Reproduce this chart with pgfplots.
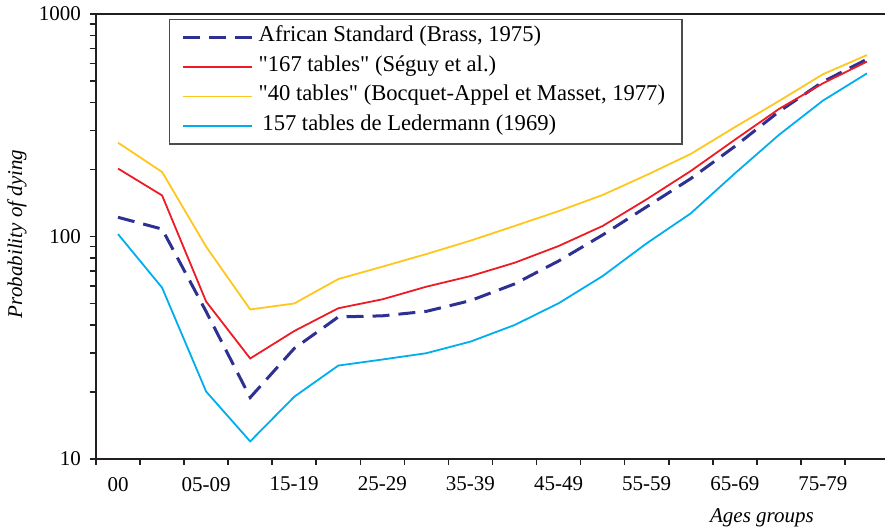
\documentclass[border=0pt]{standalone}
\usepackage{pgfplots}
\pgfplotsset{compat=1.18}
\usepackage{fontspec}
\setmainfont{Liberation Serif}
\definecolor{cNavy}{RGB}{46,49,146}
\definecolor{cRed}{RGB}{237,28,36}
\definecolor{cYel}{RGB}{255,198,30}
\definecolor{cCyan}{RGB}{0,174,239}
\definecolor{cAx}{RGB}{35,31,32}
\begin{document}
\begin{tikzpicture}
\begin{axis}[
  name=ax,
  scale only axis,
  width=394.5pt, height=222.5pt,
  font=\fontsize{10.5}{12.6}\selectfont,
  /pgf/number format/assume math mode=true,
  ymode=log,
  ymin=10, ymax=1000,
  xmin=-0.5, xmax=17.41,
  axis lines=left,
  axis line style={-, line width=1pt, draw=cAx},
  tick align=outside,
  xtick={0,2,...,16},
  xticklabels={00,05-09,15-19,25-29,35-39,45-49,55-59,65-69,75-79},
  minor xtick={-0.5,0.5,...,16.5},
  major x tick style={draw=none},
  minor x tick style={line width=0.8pt, draw=cAx},
  minor tick length=3pt,
  major tick length=3pt,
  ytick={10,100,1000},
  yticklabels={10,100,1000},
  minor ytick={},
  y tick style={line width=0.8pt, draw=cAx},
  xticklabel style={yshift=-2.5pt},
  yticklabel style={xshift=-1pt},
  xlabel={\itshape Ages groups},
  xlabel style={at={(axis description cs:0.844,-0.132)}, anchor=center},
  ylabel={\itshape Probability of dying},
  ylabel style={at={(axis description cs:-0.100,0.506)}, anchor=center, rotate=0},
  legend cell align=left,
  legend style={
    at={(axis description cs:0.0925,0.989)}, anchor=north west,
    draw=black!70, line width=0.7pt,
    inner xsep=6pt, inner ysep=1.5pt, row sep=0pt,
    nodes={inner ysep=2pt, inner xsep=2.5pt, text height=7.6pt, text depth=3.2pt},
    font=\fontsize{11.3}{13}\selectfont,
  },
  legend image code/.code={\draw[#1] (0pt,0pt) -- (34.5pt,0pt);},
]
\addplot[cNavy, line width=1.5pt, dash pattern=on 8.5pt off 4.5pt] coordinates {
(0,122) (1,108) (2,46) (3,18.9) (4,31.4) (5,43.5) (6,44) (7,46.1) (8,51.5)
(9,61.2) (10,77.6) (11,101.6) (12,136) (13,182) (14,254) (15,364) (16,496) (17,626)};
\addlegendentry{African Standard (Brass, 1975)}
\addplot[cRed, line width=0.9pt] coordinates {
(0,202) (1,153) (2,51) (3,28.3) (4,37.6) (5,47.6) (6,52.2) (7,59.5) (8,66.4)
(9,76.2) (10,90.6) (11,111.5) (12,147) (13,197) (14,272) (15,374) (16,488) (17,611)};
\addlegendentry{\textquotedbl 167 tables\textquotedbl\ (Séguy et al.)}
\addplot[cYel, line width=0.9pt] coordinates {
(0,264) (1,195) (2,90) (3,47) (4,50) (5,64.4) (6,73.2) (7,83.4) (8,95.8)
(9,111.5) (10,130) (11,153.7) (12,189) (13,235) (14,310) (15,406) (16,536) (17,654)};
\addlegendentry{\textquotedbl 40 tables\textquotedbl\ (Bocquet-Appel et Masset, 1977)\hspace{3.5pt}}
\addplot[cCyan, line width=0.9pt] coordinates {
(0,102.5) (1,58.9) (2,20.1) (3,12) (4,19.05) (5,26.3) (6,28) (7,29.9) (8,33.7)
(9,40) (10,50.1) (11,66.4) (12,93.2) (13,127) (14,192) (15,286) (16,408) (17,541)};
\addlegendentry{\,157 tables de Ledermann (1969)}
\end{axis}
\draw[line width=1pt, cAx] (ax.north west) -- (ax.north east);
\pgfresetboundingbox
\path[use as bounding box] ([xshift=-48pt,yshift=-36pt]ax.south west) rectangle ([yshift=7pt]ax.north east);
\end{tikzpicture}
\end{document}
